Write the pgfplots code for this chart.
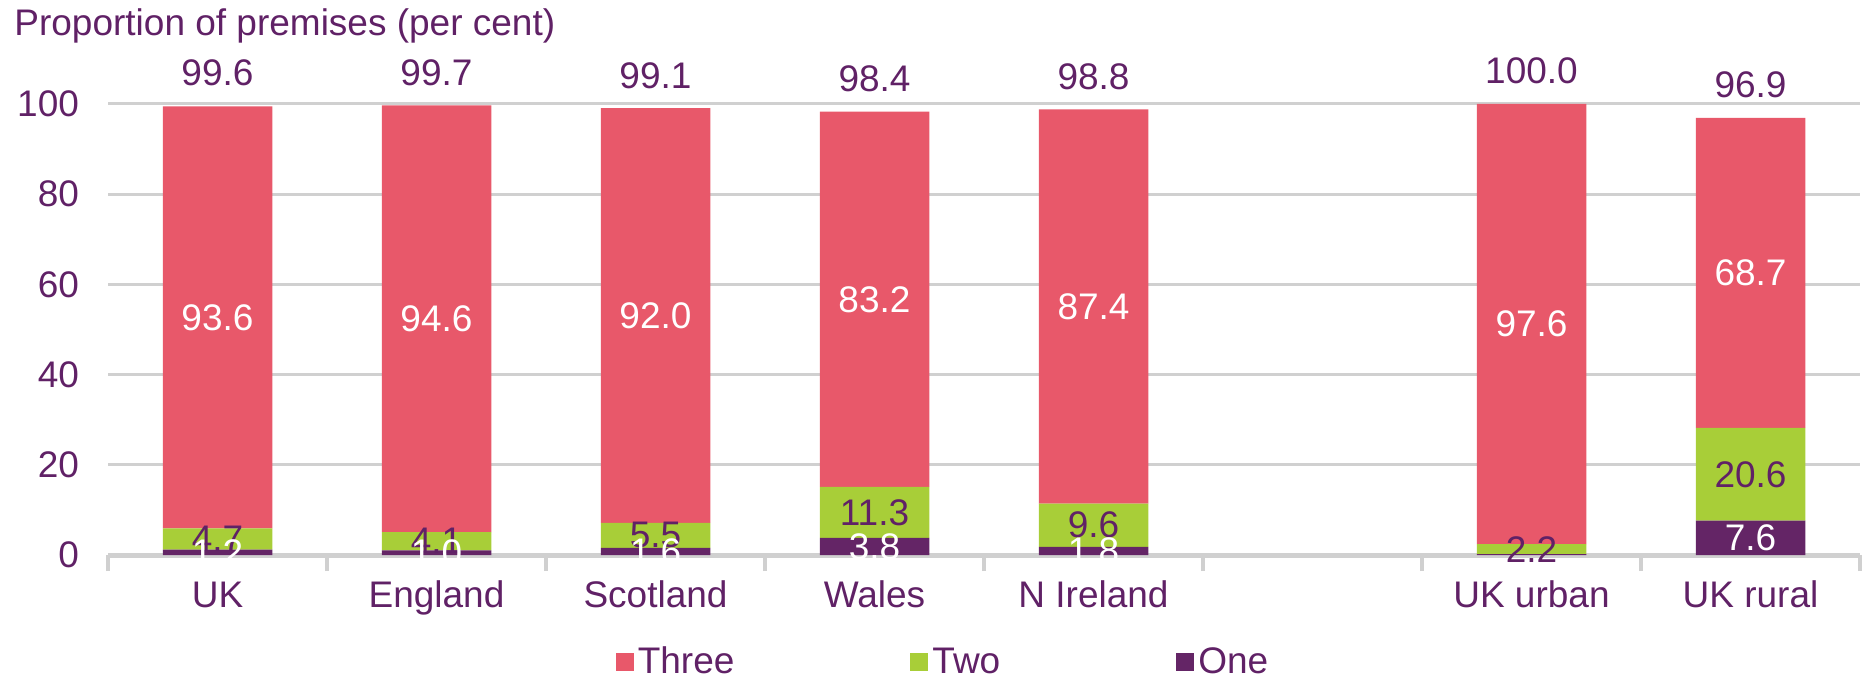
\documentclass[border=0pt]{standalone}
\usepackage{pgfplots}
\pgfplotsset{compat=1.18}
\usepackage{fontspec}
\setmainfont{Liberation Sans}
\definecolor{cThree}{RGB}{232,88,106}
\definecolor{cTwo}{RGB}{168,206,56}
\definecolor{cOne}{RGB}{100,37,102}
\definecolor{txtPurple}{RGB}{96,33,102}
\definecolor{gridGray}{RGB}{208,208,208}

\begin{document}
\begin{tikzpicture}[font=\fontsize{18.5}{22}\selectfont]
\begin{axis}[
    name=ax,
    ybar stacked,
    scale only axis,
    width=876pt, height=225.5pt,
    xmin=-0.5, xmax=7.5,
    ymin=0, ymax=100,
    bar width=0.5,
    clip=false,
    axis x line*=bottom, axis y line*=left,
    x axis line style={gridGray, line width=2.5pt},
    y axis line style={draw=none},
    xtick={0,1,2,3,4,6,7},
    xticklabels={UK,England,Scotland,Wales,N Ireland,UK urban,UK rural},
    minor xtick={-0.5,0.5,...,7.5},
    ytick={0,20,...,100},
    major tick length=0pt,
    minor tick length=8pt,
    tick align=outside,
    xtick pos=bottom, ytick pos=left,
    tick style={gridGray, line width=2pt},
    ymajorgrids,
    grid style={gridGray, line width=1.5pt},
    tick label style={font=\fontsize{18.5}{22}\selectfont, text=txtPurple},
    xticklabel style={anchor=base, yshift=-26pt},
    yticklabel style={anchor=east, xshift=-11pt},
    /pgf/number format/assume math mode=true,
    point meta=explicit symbolic,
    nodes near coords,
    every node near coord/.append style={font=\fontsize{18.5}{22}\selectfont, anchor=center},
    reverse legend,
    legend style={at={(axis description cs:0.5,0)}, anchor=center, yshift=-53.5pt, xshift=-20pt,
        draw=none, fill=none, legend columns=-1, font=\fontsize{18.5}{22}\selectfont, text=txtPurple,
        /tikz/every even column/.append style={column sep=86pt}},
    legend image code/.code={\fill[#1] (0pt,-4.5pt) rectangle (9pt,4.5pt);},
]
% One
\addplot[fill=cOne, draw=none, every node near coord/.append style={text=white}] coordinates {
    (0,1.2) [1.2] (1,1.0) [1.0] (2,1.6) [1.6] (3,3.8) [3.8] (4,1.8) [1.8]
    (5,0) [{}] (6,0.2) [{}] (7,7.6) [7.6]};
\addlegendentry{One}
% Two
\addplot[fill=cTwo, draw=none, every node near coord/.append style={text=txtPurple}] coordinates {
    (0,4.7) [4.7] (1,4.1) [4.1] (2,5.5) [5.5] (3,11.3) [11.3] (4,9.6) [9.6]
    (5,0) [{}] (6,2.2) [2.2] (7,20.6) [20.6]};
\addlegendentry{Two}
% Three
\addplot[fill=cThree, draw=none, every node near coord/.append style={text=white}] coordinates {
    (0,93.6) [93.6] (1,94.6) [94.6] (2,92.0) [92.0] (3,83.2) [83.2] (4,87.4) [87.4]
    (5,0) [{}] (6,97.6) [97.6] (7,68.7) [68.7]};
\addlegendentry{Three}
\node[anchor=base west, inner sep=0pt, text=txtPurple] at ([xshift=-47pt, yshift=34pt]rel axis cs:0,1) {Proportion of premises (per cent)};
\end{axis}
% totals above the bars
\begin{axis}[
    scale only axis,
    width=876pt, height=225.5pt,
    xmin=-0.5, xmax=7.5,
    ymin=0, ymax=100,
    clip=false,
    axis lines=none,
    point meta=explicit symbolic,
    nodes near coords,
    every node near coord/.append style={font=\fontsize{18.5}{22}\selectfont, anchor=base, yshift=10pt, text=txtPurple},
]
\addplot[draw=none, mark=none] coordinates {
    (0,99.6) [99.6] (1,99.7) [99.7] (2,99.1) [99.1] (3,98.4) [98.4] (4,98.8) [98.8]
    (6,100.0) [100.0] (7,96.9) [96.9]};
\end{axis}
\pgfresetboundingbox
\path ([xshift=-54pt,yshift=-65pt]ax.south west) rectangle ([xshift=2pt,yshift=52pt]ax.north east);
\end{tikzpicture}
\end{document}
